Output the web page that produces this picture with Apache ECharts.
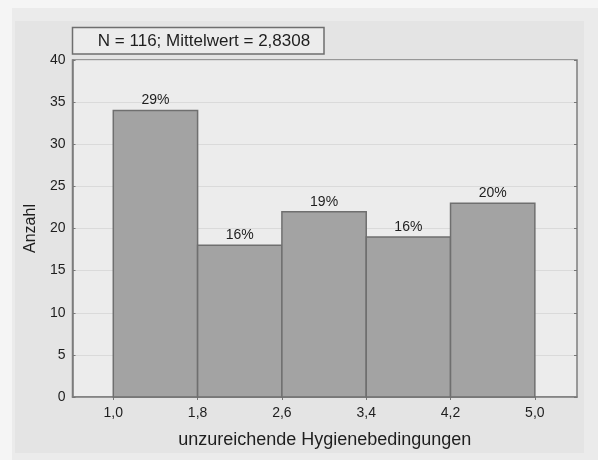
<!DOCTYPE html>
<html>
<head>
<meta charset="utf-8">
<script src="https://cdn.jsdelivr.net/npm/echarts@6/dist/echarts.min.js"></script>
<style>
  html, body { margin: 0; padding: 0; background: #f5f5f5; }
  .frame { position: absolute; left: 12px; top: 8px; width: 586px; height: 452px; background: #ebebeb; }
  .panel { position: absolute; left: 15px; top: 21px; width: 569px; height: 432px; background: #e4e4e4; }
  #chart { position: absolute; left: 0; top: 0; width: 598px; height: 460px; }
</style>
</head>
<body>
<div class="frame"></div>
<div class="panel"></div>
<div id="chart"></div>
<script>
const binEdges = [1.0, 1.8, 2.6, 3.4, 4.2, 5.0];
const counts = [34, 18, 22, 19, 23];
const percents = ["29%", "16%", "19%", "16%", "20%"];
const yTicks = [0, 5, 10, 15, 20, 25, 30, 35, 40];
const infoText = "N = 116; Mittelwert = 2,8308";

const bins = counts.map((c, i) => [binEdges[i], binEdges[i + 1], c, percents[i]]);
const fmt = v => v.toFixed(1).replace(".", ",");
const font = "'Liberation Sans', Arial, sans-serif";

let chart = echarts.init(document.getElementById("chart"));
let option = {
  backgroundColor: "transparent",
  animation: false,
  grid: {
    left: 72.5, top: 60, right: 21, bottom: 63,
    show: true,
    backgroundColor: "#ececec",
    borderColor: "#7d7d7d",
    borderWidth: 1.5
  },
  graphic: [
    {
      type: "rect",
      shape: { x: 72.5, y: 27.5, width: 251.5, height: 26.5 },
      style: { fill: "#ececec", stroke: "#6e6e6e", lineWidth: 1.5 }
    },
    {
      type: "text",
      x: 204, y: 41,
      style: {
        text: infoText, font: "17px " + font, fill: "#1e1e1e",
        align: "center", verticalAlign: "middle"
      }
    }
  ],
  xAxis: [
    {
      type: "value",
      min: 0.613, max: 5.4,
      name: "unzureichende Hygienebedingungen",
      nameLocation: "middle",
      nameGap: 34,
      nameTextStyle: { fontFamily: font, fontSize: 18, color: "#1e1e1e" },
      axisLine: { lineStyle: { color: "#7d7d7d", width: 1.5 } },
      axisTick: { show: false },
      splitLine: { show: false },
      axisLabel: {
        customValues: binEdges,
        formatter: fmt,
        fontFamily: font, fontSize: 14, color: "#1e1e1e", margin: 9
      }
    },
    {
      type: "value",
      position: "top",
      min: 0.613, max: 5.4,
      axisLine: { show: false },
      axisTick: {
        show: true, inside: true, length: 3,
        customValues: binEdges,
        lineStyle: { color: "#777" }
      },
      axisLabel: { show: false },
      splitLine: { show: false }
    }
  ],
  yAxis: [
    {
      type: "value",
      min: 0, max: 40, interval: 5,
      name: "Anzahl",
      nameLocation: "middle",
      nameGap: 32,
      nameTextStyle: { fontFamily: font, fontSize: 16, color: "#1e1e1e" },
      axisLine: { show: true, lineStyle: { color: "#7d7d7d", width: 1.5 } },
      axisTick: { show: true, inside: true, length: 3, lineStyle: { color: "#777" } },
      splitLine: { show: true, lineStyle: { color: "#dadada", width: 1 } },
      axisLabel: { fontFamily: font, fontSize: 14, color: "#1e1e1e", margin: 7 }
    },
    {
      type: "value",
      position: "right",
      min: 0, max: 40, interval: 5,
      axisLine: { show: false },
      axisTick: { show: true, inside: true, length: 3, lineStyle: { color: "#777" } },
      axisLabel: { show: false },
      splitLine: { show: false }
    }
  ],
  series: [
    {
      type: "custom",
      xAxisIndex: 0,
      yAxisIndex: 0,
      data: bins,
      encode: { x: [0, 1], y: 2 },
      renderItem: function (params, api) {
        let p0 = api.coord([api.value(0), api.value(2)]);
        let p1 = api.coord([api.value(1), 0]);
        return {
          type: "group",
          children: [
            {
              type: "rect",
              shape: { x: p0[0], y: p0[1], width: p1[0] - p0[0], height: p1[1] - p0[1] },
              style: { fill: "#a3a3a3", stroke: "#6f6f6f", lineWidth: 1.5 }
            },
            {
              type: "text",
              x: (p0[0] + p1[0]) / 2,
              y: p0[1] - 3,
              style: {
                text: bins[params.dataIndex][3],
                font: "14px " + font, fill: "#1e1e1e",
                align: "center", verticalAlign: "bottom"
              }
            }
          ]
        };
      }
    }
  ]
};
chart.setOption(option);
</script>
</body>
</html>
